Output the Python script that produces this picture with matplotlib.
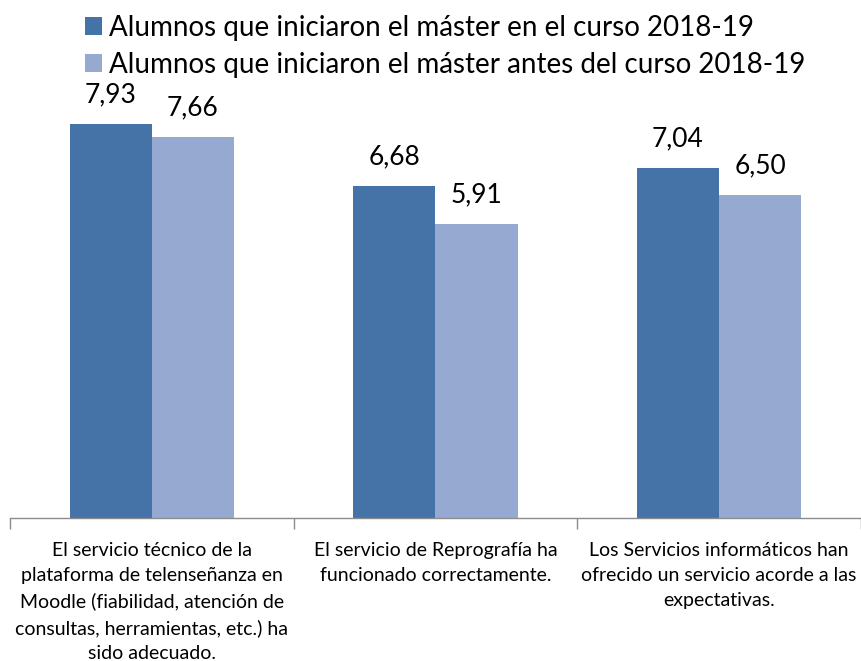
import numpy as np
import matplotlib.pyplot as plt

plt.rcParams['font.family'] = ['Lato', 'DejaVu Sans']

# data
categorias = [
    'El servicio técnico de la\nplataforma de telenseñanza en\nMoodle (fiabilidad, atención de\nconsultas, herramientas, etc.) ha\nsido adecuado.',
    'El servicio de Reprografía ha\nfuncionado correctamente.',
    'Los Servicios informáticos han\nofrecido un servicio acorde a las\nexpectativas.',
]
series = ['Alumnos que iniciaron el máster en el curso 2018-19',
          'Alumnos que iniciaron el máster antes del curso 2018-19']
curso_2018 = [7.93, 6.68, 7.04]
antes_2018 = [7.66, 5.91, 6.50]
colores = ['#4572A7', '#95A9D1']

fig = plt.figure(figsize=(8.61, 6.61), dpi=100)
ax = fig.add_axes([10 / 861, 1 - 518 / 661, 851 / 861, 497 / 661])

x = np.arange(len(categorias))
w = 0.29
b1 = ax.bar(x - w / 2, curso_2018, w, color=colores[0], label=series[0])
b2 = ax.bar(x + w / 2, antes_2018, w, color=colores[1], label=series[1])

for bars in (b1, b2):
    for r in bars:
        ax.annotate(f'{r.get_height():.2f}'.replace('.', ','),
                    (r.get_x() + r.get_width() / 2, r.get_height()),
                    xytext=(0, 12), textcoords='offset points',
                    ha='center', va='bottom', fontsize=19)

ax.set_xlim(-0.5, 2.5)
ax.set_ylim(0, 10)
ax.set_yticks([])
for s in ['top', 'right', 'left']:
    ax.spines[s].set_visible(False)
ax.spines['bottom'].set_color('#8c8c8c')
ax.spines['bottom'].set_linewidth(1.0)

ax.set_xticks(x)
ax.set_xticklabels(categorias, fontsize=14, linespacing=1.58, va='top')
ax.tick_params(axis='x', which='major', length=0, pad=17)
ax.set_xticks([-0.5, 0.5, 1.5, 2.5], minor=True)
ax.tick_params(axis='x', which='minor', length=8, color='#8c8c8c', width=1.0)

fig.legend(handles=[b1, b2], labels=series, loc='upper left',
           bbox_to_anchor=(85 / 861, 1 - 15 / 661), frameon=False, fontsize=20,
           handlelength=0.6, handleheight=0.6, handletextpad=0.25,
           labelspacing=0.38, borderpad=0, borderaxespad=0)

fig.savefig('out.png', dpi=100)
